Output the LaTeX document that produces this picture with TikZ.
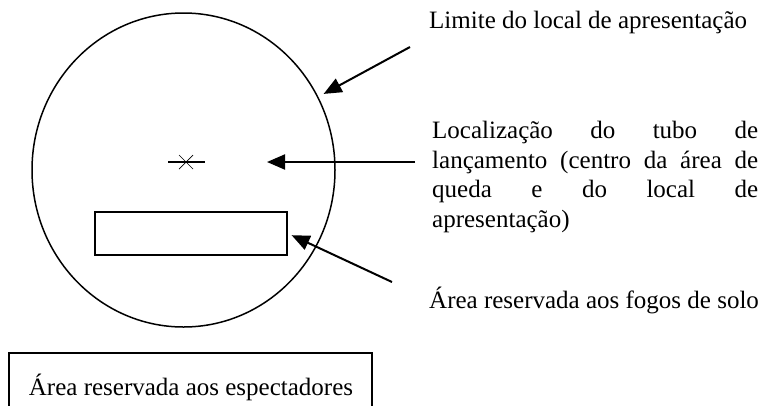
\documentclass[tikz,border=0pt]{standalone}
\usepackage{fontspec}
\setmainfont{Liberation Serif}
\usetikzlibrary{shapes.geometric, arrows.meta}

\begin{document}
\begin{tikzpicture}[x=1pt, y=-1pt]
    \tikzstyle{limit} = [ellipse, draw=black, line width=1.5pt, minimum width=303pt, minimum height=314pt, inner sep=0pt]
    \tikzstyle{zone} = [rectangle, draw=black, line width=2pt, minimum width=192pt, minimum height=43pt, inner sep=0pt]
    \tikzstyle{note} = [anchor=base west, inner sep=0pt, align=left, font=\fontsize{25}{29.5}\selectfont]
    \tikzstyle{arrow} = [line width=2pt, -{Triangle[length=18pt, width=15pt]}]

    \useasboundingbox (0,0) rectangle (768,405);
    \clip (0,0) rectangle (768,405);

    \node (local) [limit] at (183.5,170) {};
    \node (solo) [zone] at (191,233.5) {};
    \coordinate (tubo) at (186,162);
    \draw [line width=1.2pt] ([xshift=-18pt]tubo) -- ([xshift=19pt]tubo);
    \draw [line width=0.7pt] ([shift={(-7pt,-7pt)}]tubo) -- ([shift={(7pt,7pt)}]tubo);
    \draw [line width=0.7pt] ([shift={(-7pt,7pt)}]tubo) -- ([shift={(7pt,-7pt)}]tubo);

    % the base anchor of a node of several lines is on its last line
    \node (limite) [note] at (429,28) {Limite do local de apresentação};
    \node (lancamento) [note] at (432,227) {\makebox[326pt][s]{Localização do tubo de}\\
        \makebox[326pt][s]{lançamento (centro da área de}\\
        \makebox[326pt][s]{queda e do local de}\\
        apresentação)};
    \node (fogos) [note] at (429,308) {Área reservada aos fogos de solo};
    \node (espectadores) [note, anchor=base] at (191,395) {Área reservada aos espectadores};
    \draw [line width=2pt] (9,412) -- (9,353) -- (372,353) -- (372,412);

    \coordinate (limiteTail) at (410,47);
    \coordinate (lancamentoTail) at (415,162);
    \coordinate (fogosTail) at (392,282);
    \draw [arrow, shorten >=6pt] (limiteTail) -- (local);
    \draw [arrow, shorten >=81pt] (lancamentoTail) -- (tubo);
    \draw [arrow, shorten >=4pt] (fogosTail) -- (solo.east);
\end{tikzpicture}
\end{document}
